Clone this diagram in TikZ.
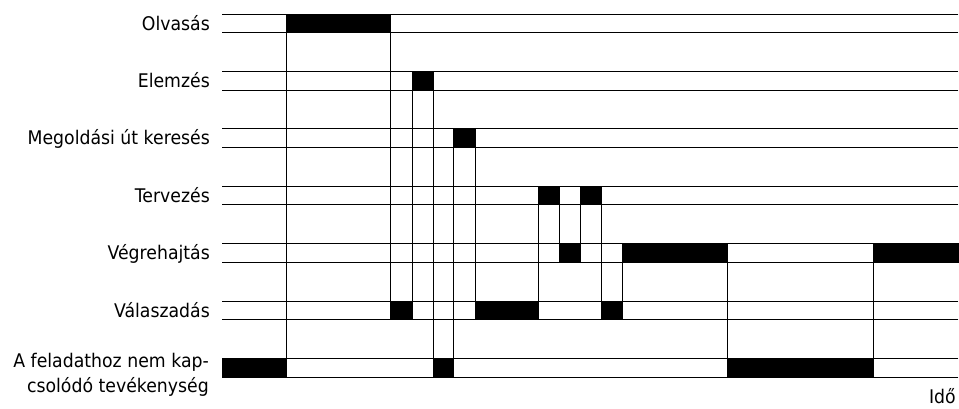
\documentclass[tikz,border=0pt]{standalone}
\usepackage{fontspec}
\setmainfont{DejaVu Sans}[FakeStretch=0.92]
\begin{document}
\begin{tikzpicture}[x=1pt,y=-1pt,
  lbl/.style={anchor=base east, inner sep=0pt, font=\fontsize{18.8}{22}\selectfont},
  blk/.style={fill=black, draw=black, line width=0.8pt, inner sep=0pt, outer sep=0pt, anchor=north west, minimum height=18.6pt},
  rowline/.style={line width=0.95pt, line cap=rect},
  conn/.style={line width=0.95pt}]
\useasboundingbox (0,0) rectangle (959,408);
% row lines
\foreach \t in {14,71.4,128.8,186.2,243.6,301,358.4} {
  \draw[rowline] (222,\t) -- (958,\t);
  \draw[rowline] (222,\t+18.6) -- (958,\t+18.6);
}
% labels
\node[lbl] (l1) at (210,30.1) {Olvasás};
\node[lbl] (l2) at (210,87.5) {Elemzés};
\node[lbl] (l3) at (210,144.9) {Megoldási út keresés};
\node[lbl] (l4) at (210,202.3) {Tervezés};
\node[lbl] (l5) at (210,259.7) {Végrehajtás};
\node[lbl] (l6) at (210,317.1) {Válaszadás};
\node[lbl] (l7a) at (209,367.5) {A feladathoz nem kap-};
\node[lbl] (l7b) at (209,392.8) {csolódó tevékenység};
\node[lbl] (ido) at (956,403) {Idő};
% activity blocks
\node[blk, minimum width=64pt]  (b0)  at (222,358.4) {};
\node[blk, minimum width=104pt] (b1)  at (286,14) {};
\node[blk, minimum width=22pt]  (b2)  at (390,301) {};
\node[blk, minimum width=21pt]  (b3)  at (412,71.4) {};
\node[blk, minimum width=20pt]  (b4)  at (433,358.4) {};
\node[blk, minimum width=22pt]  (b5)  at (453,128.8) {};
\node[blk, minimum width=63pt]  (b6)  at (475,301) {};
\node[blk, minimum width=21pt]  (b7)  at (538,186.2) {};
\node[blk, minimum width=21pt]  (b8)  at (559,243.6) {};
\node[blk, minimum width=21pt]  (b9)  at (580,186.2) {};
\node[blk, minimum width=21pt]  (b10) at (601,301) {};
\node[blk, minimum width=105pt] (b11) at (622,243.6) {};
\node[blk, minimum width=146pt] (b12) at (727,358.4) {};
\node[blk, minimum width=85pt]  (b13) at (873,243.6) {};
% transitions
\draw[conn] (b0.north east) -- (b1.south west);
\draw[conn] (b1.south east) -- (b2.north west);
\draw[conn] (b2.north east) -- (b3.south west);
\draw[conn] (b3.south east) -- (b4.north west);
\draw[conn] (b4.north east) -- (b5.south west);
\draw[conn] (b5.south east) -- (b6.north west);
\draw[conn] (b6.north east) -- (b7.south west);
\draw[conn] (b7.south east) -- (b8.north west);
\draw[conn] (b8.north east) -- (b9.south west);
\draw[conn] (b9.south east) -- (b10.north west);
\draw[conn] (b10.north east) -- (b11.south west);
\draw[conn] (b11.south east) -- (b12.north west);
\draw[conn] (b12.north east) -- (b13.south west);
\end{tikzpicture}
\end{document}
